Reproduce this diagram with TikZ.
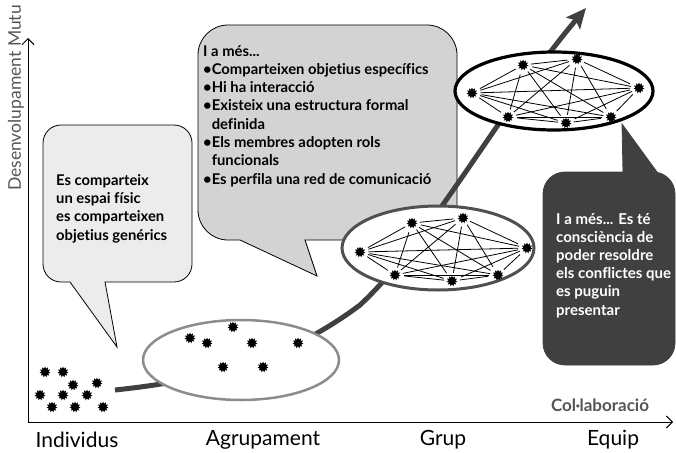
\documentclass[tikz,border=0pt]{standalone}
\usepackage{fontspec}
\setmainfont{Lato}[Ligatures={NoCommon}]
\usetikzlibrary{shapes.geometric,arrows.meta}

\definecolor{bublight}{RGB}{236,236,236}
\definecolor{bubmid}{RGB}{211,211,211}
\definecolor{bubdark}{RGB}{64,64,64}
\definecolor{curvegray}{RGB}{64,64,64}
\definecolor{labelgray}{RGB}{85,85,85}

\begin{document}
\begin{tikzpicture}[x=1pt,y=-1pt,
        bug/.style={star, star points=11, star point ratio=1.6, fill=black, inner sep=0pt, minimum size=11pt},
        bubtext/.style={anchor=north west, inner sep=0pt, align=left, font=\bfseries\fontsize{14.8}{18.3}\selectfont},
        stage/.style={inner sep=0pt, font=\fontsize{21}{22}\selectfont},
        axislabel/.style={inner sep=0pt, text=labelgray, font=\bfseries\fontsize{17}{18}\selectfont},
        link/.style={shorten >=4pt, shorten <=4pt, line width=0.8pt}]

        \useasboundingbox (0,0) rectangle (676,452);

        % Axes
        \coordinate (origin) at (28,422);
        \coordinate (ytop) at (28,38);
        \coordinate (xend) at (673,422);
        \draw[line width=1pt, -{Straight Barb[length=6pt,width=12pt]}] (origin) -- (ytop);
        \draw[line width=1pt, -{Straight Barb[length=6pt,width=12pt]}] (origin) -- (xend);
        \node[axislabel, rotate=90, font=\fontsize{17.5}{18}\selectfont] (ylab) at (16,98) {Desenvolupament Mutu};
        \node[axislabel] (xlab) at (600,405) {Col·laboració};

        % Stage names
        \node[stage] (individus) at (77,440) {Individus};
        \node[stage] (agrupament) at (263,440) {Agrupament};
        \node[stage] (grup) at (443,440) {Grup};
        \node[stage] (equip) at (613,440) {Equip};

        % Speech bubbles
        \filldraw[fill=bublight, draw=black, line width=0.8pt]
            (117,125) [rounded corners=18pt] -- (192,125) -- (192,282) [sharp corners] -- (105,282)
            -- (117,347) -- (70,282) [rounded corners=18pt] -- (43,282) -- (43,125) -- cycle;
        \node[bubtext] (txtind) at (56,174) {Es comparteix\\un espai físic\\es comparteixen\\objetius genérics};

        \filldraw[fill=bubmid, draw=black, line width=0.8pt]
            (330,25) [rounded corners=30pt] -- (457,25) -- (457,240) [sharp corners] -- (305,240)
            -- (317,276) -- (240,240) [rounded corners=30pt] -- (198,240) -- (198,25) -- cycle;
        \node[bubtext] (txtagr) at (203,45) {I a més...\\
            •Comparteixen objetius específics\\
            •Hi ha interacció\\
            •Existeix una estructura formal\\
            \phantom{•}definida\\
            •Els membres adopten rols\\
            \phantom{•}funcionals\\
            •Es perfila una red de comunicació};

        \filldraw[fill=bubdark, draw=bubdark, line width=0.8pt]
            (543,270) [rounded corners=22pt] -- (543,172) [sharp corners] -- (623,172)
            -- (622,124) -- (657,172) [rounded corners=22pt] -- (675,172) -- (675,365) -- (543,365) -- cycle;
        \node[bubtext, text=white, font=\bfseries\fontsize{15}{18.2}\selectfont] (txtequ) at (556,213) {I a més... Es té\\consciència de\\poder resoldre\\els conflictes que\\es puguin\\presentar};

        % Growth curve
        \draw[curvegray, line width=5pt, -{Stealth[length=20pt,width=18pt,inset=4pt]}]
            (115,390) .. controls (230,378) and (300,350) .. (360,305)
            .. controls (430,240) and (500,110) .. (586,8);

        % Groups
        \draw[fill=white, draw={rgb,255:red,140;green,140;blue,140}, line width=2.5pt] (241,360) ellipse [x radius=98, y radius=40];
        \draw[fill=white, draw={rgb,255:red,80;green,80;blue,80}, line width=3pt] (438,248) ellipse [x radius=96, y radius=42];
        \draw[fill=white, draw=black, line width=3.2pt] (554,91) ellipse [x radius=99, y radius=39];

        % Individuals
        \foreach \x/\y [count=\i] in {45/372, 63/372, 73/385, 97/383, 40/395, 63/395, 87/395, 52/407, 75/407, 103/407}
            \node[bug] (ind\i) at (\x,\y) {};

        % Grouping
        \foreach \x/\y [count=\i] in {233/327, 190/338, 207/343, 252/343, 298/343, 223/367, 263/367}
            \node[bug] (agr\i) at (\x,\y) {};

        % Group network
        \foreach \x/\y [count=\i] in {360/252, 412/223, 463/218, 527/248, 498/275, 452/281, 395/275}
            \node[bug] (g\i) at (\x,\y) {};
        \foreach \i [evaluate=\i as \k using int(\i+1)] in {1,...,6}
            \foreach \j in {\k,...,7}
                \draw[link] (g\i) -- (g\j);

        % Team network
        \foreach \x/\y [count=\i] in {472/93, 523/65, 577/59, 639/88, 611/117, 566/123, 508/117}
            \node[bug] (e\i) at (\x,\y) {};
        \foreach \i [evaluate=\i as \k using int(\i+1)] in {1,...,6}
            \foreach \j in {\k,...,7}
                \draw[link] (e\i) -- (e\j);

\end{tikzpicture}
\end{document}
